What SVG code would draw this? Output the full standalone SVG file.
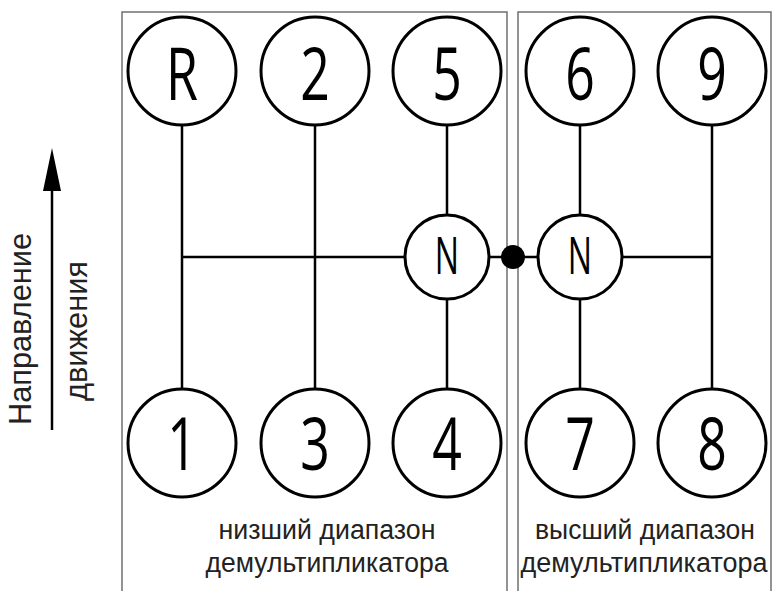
<svg xmlns="http://www.w3.org/2000/svg" width="772" height="591" viewBox="0 0 772 591">
<style>
.box{fill:none;stroke:#707070;stroke-width:1.5}
.c{fill:#fff;stroke:#000;stroke-width:3}
.ln{stroke:#000;stroke-width:2.5;fill:none}
.num{font-family:"Open Sans","Liberation Sans",sans-serif;font-weight:400;font-size:74px;fill:#000;text-anchor:middle}
.nn{font-family:"Open Sans","Liberation Sans",sans-serif;font-weight:400;font-size:52px;fill:#000;text-anchor:middle}
.lbl{font-family:"Liberation Sans",Arial,sans-serif;font-size:27px;fill:#222;text-anchor:middle}
.side{font-family:"Liberation Sans",Arial,sans-serif;font-size:32px;fill:#222;text-anchor:middle}
</style>
<rect width="772" height="591" fill="#fff"/>
<g id="boxes">
<path class="box" d="M122,591 V12 H507 V591"/>
<path class="box" d="M518,591 V12 H771 V591"/>
</g>
<g id="connectors">
<path class="ln" d="M182,125 V389 M315,125 V389 M447,125 V215 M447,299 V389 M580,125 V215 M580,299 V389 M712,125 V389 M182,257 H405 M489,257 H538 M622,257 H712"/>
<circle cx="513" cy="257" r="12" fill="#000"/>
</g>
<g id="node-R"><circle class="c" cx="182" cy="71" r="54"/><text class="num" transform="translate(182,100) scale(0.7,1)">R</text></g>
<g id="node-2"><circle class="c" cx="315" cy="71" r="54"/><text class="num" transform="translate(315,100) scale(0.7,1)">2</text></g>
<g id="node-5"><circle class="c" cx="447" cy="71" r="54"/><text class="num" transform="translate(447,100) scale(0.7,1)">5</text></g>
<g id="node-6"><circle class="c" cx="580" cy="71" r="54"/><text class="num" transform="translate(580,100) scale(0.7,1)">6</text></g>
<g id="node-9"><circle class="c" cx="712" cy="71" r="54"/><text class="num" transform="translate(712,100) scale(0.7,1)">9</text></g>
<g id="node-1"><circle class="c" cx="182" cy="443" r="54"/><text class="num" transform="translate(182,470) scale(0.7,1)">1</text></g>
<g id="node-3"><circle class="c" cx="315" cy="443" r="54"/><text class="num" transform="translate(315,470) scale(0.7,1)">3</text></g>
<g id="node-4"><circle class="c" cx="447" cy="443" r="54"/><text class="num" transform="translate(447,470) scale(0.7,1)">4</text></g>
<g id="node-7"><circle class="c" cx="580" cy="443" r="54"/><text class="num" transform="translate(580,470) scale(0.7,1)">7</text></g>
<g id="node-8"><circle class="c" cx="712" cy="443" r="54"/><text class="num" transform="translate(712,470) scale(0.7,1)">8</text></g>
<g id="node-N-low"><circle class="c" cx="447" cy="257" r="42"/><text class="nn" transform="translate(447,274) scale(0.62,1)">N</text></g>
<g id="node-N-high"><circle class="c" cx="580" cy="257" r="42"/><text class="nn" transform="translate(580,274) scale(0.62,1)">N</text></g>
<g id="labels">
<text class="lbl" x="327" y="539" textLength="217" lengthAdjust="spacingAndGlyphs">низший диапазон</text>
<text class="lbl" x="327" y="572" textLength="243" lengthAdjust="spacingAndGlyphs">демультипликатора</text>
<text class="lbl" x="645" y="539" textLength="220" lengthAdjust="spacingAndGlyphs">высший диапазон</text>
<text class="lbl" x="644" y="572" textLength="247" lengthAdjust="spacingAndGlyphs">демультипликатора</text>
</g>
<g id="direction">
<line x1="52" y1="430" x2="52" y2="185" stroke="#000" stroke-width="2.5"/>
<polygon points="52,148 43,191 61,191" fill="#000"/>
<text class="side" transform="translate(31,329) rotate(-90)" textLength="192" lengthAdjust="spacingAndGlyphs">Направление</text>
<text class="side" transform="translate(87,331) rotate(-90)" textLength="140" lengthAdjust="spacingAndGlyphs">движения</text>
</g>
</svg>
